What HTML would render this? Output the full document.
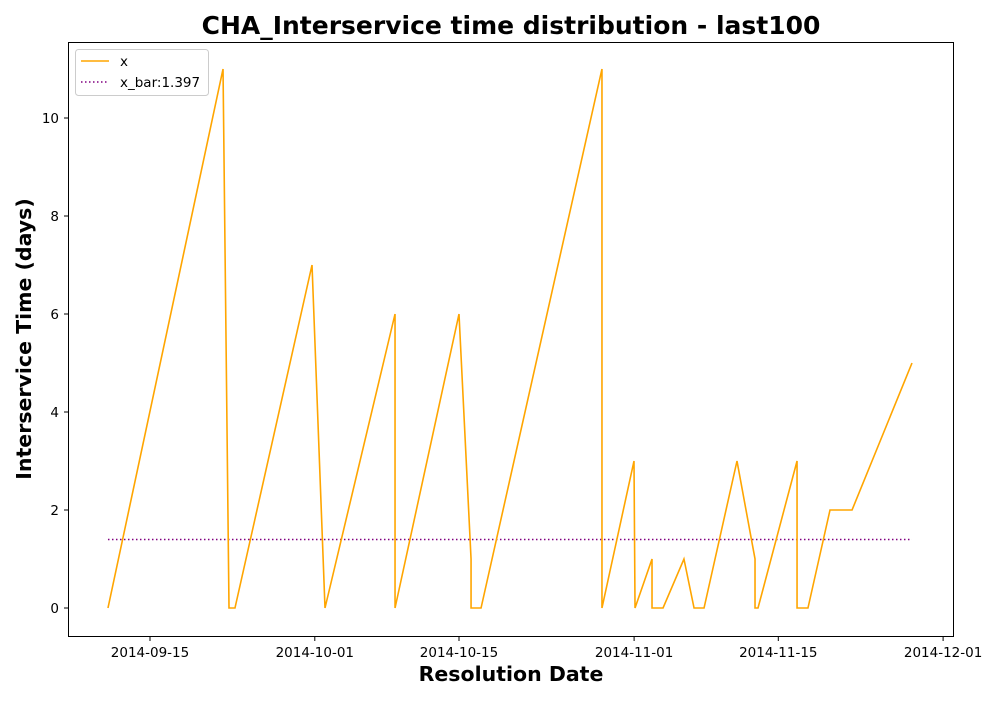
<!DOCTYPE html>
<html><head><meta charset="utf-8"><style>
body{margin:0;background:#fff;font-family:"DejaVu Sans",sans-serif}
svg text{font-family:"DejaVu Sans",sans-serif}
</style></head><body>
<svg id="chart" width="1000" height="700">
<rect width="1000" height="700" fill="#fff"/>
<text x="511" y="34" text-anchor="middle" font-size="25" font-weight="bold">CHA_Interservice time distribution - last100</text>
<g id="plot"></g>
<rect x="68.5" y="42.5" width="885" height="594" fill="none" stroke="#000" stroke-width="1"/>
<text x="511" y="681" text-anchor="middle" font-size="20.5" font-weight="bold">Resolution Date</text>
<text transform="translate(31,339) rotate(-90)" text-anchor="middle" font-size="20.5" font-weight="bold">Interservice Time (days)</text>
<g>
<rect x="75.5" y="49.5" width="133" height="46" fill="#fff" stroke="#ccc" rx="3"/>
<line x1="81" y1="61" x2="109" y2="61" stroke="orange" stroke-width="1.5"/>
<text x="120" y="66" font-size="13.5">x</text>
<line x1="81" y1="82" x2="109" y2="82" stroke="purple" stroke-width="1.5" stroke-dasharray="1.5,2.5"/>
<text x="120" y="87" font-size="13.5">x_bar:1.397</text>
</g>
</svg>
<script>
// days since 2014-09-01
const xDays=[9.92,21.09,21.67,22.25,29.73,30.99,37.79,37.79,44.0,45.17,45.17,46.14,57.88,57.88,60.99,61.09,62.74,62.74,63.81,65.84,66.82,67.79,70.99,72.74,72.74,73.03,76.82,76.82,77.88,80.02,82.16,87.98];
const yValues=[0,11,0,0,7,0,6,0,6,1,0,0,11,0,3,0,1,0,0,1,0,0,3,1,0,0,3,0,0,2,2,5];
const meanValue=1.397;
const yTicks=[0,2,4,6,8,10];
const xTickDays=[14,30,44,61,75,91];
const xTickLabels=["2014-09-15","2014-10-01","2014-10-15","2014-11-01","2014-11-15","2014-12-01"];
const NS="http://www.w3.org/2000/svg";
const X=d=>150+(d-14)*10.3;
const Y=v=>608-v*49;
const g=document.getElementById('plot');
function mk(t,a){const e=document.createElementNS(NS,t);for(const k in a)e.setAttribute(k,a[k]);g.appendChild(e);return e;}
yTicks.forEach(v=>{
  const l=mk('line',{x1:64,x2:68,y1:Y(v),y2:Y(v),stroke:'#000'});
  
  
  const t=mk('text',{x:59,y:Y(v)+5,'text-anchor':'end','font-size':13.5});
  t.textContent=v;
  
  
});
xTickDays.forEach((d,i)=>{
  const l=mk('line',{x1:X(d),x2:X(d),y1:637,y2:641,stroke:'#000'});
  
  
  const t=mk('text',{x:X(d),y:657,'text-anchor':'middle','font-size':13.5});
  t.textContent=xTickLabels[i];
  
  
});
const ml=mk('line',{x1:X(xDays[0]),x2:X(xDays[xDays.length-1]),y1:Y(meanValue),y2:Y(meanValue),stroke:'purple','stroke-width':1.5,'stroke-dasharray':'1.5,2.5'});


const pl=mk('polyline',{points:xDays.map((d,i)=>X(d)+','+Y(yValues[i])).join(' '),fill:'none',stroke:'orange','stroke-width':1.6});


</script>
</body></html>
